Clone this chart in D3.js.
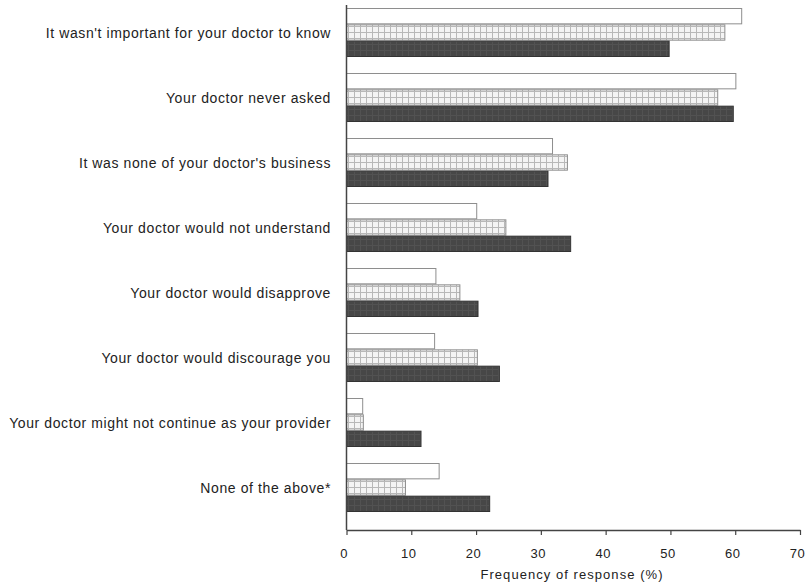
<!DOCTYPE html>
<html>
<head>
<meta charset="utf-8">
<script src="https://cdn.jsdelivr.net/npm/d3@7"></script>
<style>
  html, body { margin: 0; padding: 0; background: #fff; }
  svg { display: block; }
  text { font-family: "Liberation Sans", Arial, Helvetica, sans-serif; fill: #222; }
</style>
</head>
<body>
<svg id="chart" width="807" height="586"></svg>
<script>
const categories = [
  "It wasn't important for your doctor to know",
  "Your doctor never asked",
  "It was none of your doctor's business",
  "Your doctor would not understand",
  "Your doctor would disapprove",
  "Your doctor would discourage you",
  "Your doctor might not continue as your provider",
  "None of the above*"
];
const seriesNames = ["Open", "Hatched", "Solid"];
const openValues    = [61.0, 60.1, 31.8, 20.1, 13.8, 13.6, 2.5, 14.3];
const hatchedValues = [58.4, 57.3, 34.1, 24.6, 17.5, 20.2, 2.6, 9.1];
const solidValues   = [49.8, 59.7, 31.1, 34.6, 20.3, 23.6, 11.5, 22.1];
const xTicks = [0, 10, 20, 30, 40, 50, 60, 70];
const xTitle = "Frequency of response (%)";

const series = [openValues, hatchedValues, solidValues];

const svg = d3.select("#chart");
const plotTop = 8;
const plotBottom = 530;

const x = d3.scaleLinear().domain([0, 70]).range([346.5, 800]);
const y0 = d3.scaleBand().domain(categories).range([plotTop, plotTop + 65 * 8 - 16])
  .paddingInner(16 / 65).paddingOuter(0);
const y1 = d3.scaleBand().domain(seriesNames).range([0, y0.bandwidth()]).padding(0);

// patterns
const defs = svg.append("defs");
const ph = defs.append("pattern").attr("id", "hatch").attr("patternUnits", "userSpaceOnUse")
  .attr("width", 6).attr("height", 6);
ph.append("rect").attr("width", 6).attr("height", 6).attr("fill", "#f4f4f4");
ph.append("path").attr("d", "M0 0.5 H6 M0.5 0 V6").attr("stroke", "#b8b8b8").attr("stroke-width", 1).attr("fill", "none");

const pd = defs.append("pattern").attr("id", "dark").attr("patternUnits", "userSpaceOnUse")
  .attr("width", 6).attr("height", 6);
pd.append("rect").attr("width", 6).attr("height", 6).attr("fill", "#474747");
pd.append("path").attr("d", "M0 0.5 H6 M0.5 0 V6").attr("stroke", "#525252").attr("stroke-width", 1).attr("fill", "none");

const fills = ["#ffffff", "url(#hatch)", "url(#dark)"];
const strokes = ["#8e8e8e", "#8e8e8e", "#333"];

const groups = svg.append("g").selectAll("g")
  .data(categories)
  .join("g")
  .attr("transform", d => `translate(0,${y0(d)})`);

groups.selectAll("rect")
  .data((d, i) => series.map((s, k) => ({ key: seriesNames[k], k, v: s[i] })))
  .join("rect")
  .attr("x", x(0))
  .attr("y", d => y1(d.key) + 0.5)
  .attr("width", d => x(d.v) - x(0))
  .attr("height", y1.bandwidth() - 1)
  .attr("fill", d => fills[d.k])
  .attr("stroke", d => strokes[d.k])
  .attr("stroke-width", 1);

// category labels
svg.append("g").selectAll("text")
  .data(categories)
  .join("text")
  .attr("x", 331)
  .attr("y", d => y0(d) + y0.bandwidth() / 2)
  .attr("dy", "0.38em")
  .attr("text-anchor", "end")
  .attr("font-size", 14)
  .attr("letter-spacing", 0.6)
  .text(d => d);

// left axis line
svg.append("line")
  .attr("x1", x(0)).attr("x2", x(0))
  .attr("y1", 5).attr("y2", plotBottom)
  .attr("stroke", "#444").attr("stroke-width", 1.5);

// bottom axis
const xAxis = d3.axisBottom(x).tickValues(xTicks).tickSize(5).tickPadding(14).tickSizeOuter(0);
const gx = svg.append("g").attr("transform", `translate(0,${plotBottom})`).call(xAxis);
gx.select(".domain").attr("stroke", "#444").attr("stroke-width", 1.5);
gx.selectAll(".tick line").attr("stroke", "#444").attr("stroke-width", 1.2);
gx.selectAll(".tick text").attr("font-size", 13).attr("fill", "#222")
  .attr("letter-spacing", 0.5)
  .attr("dx", -3)
  .attr("font-family", "'Liberation Sans', Arial, sans-serif");

svg.append("text")
  .attr("x", 572)
  .attr("y", 579)
  .attr("text-anchor", "middle")
  .attr("font-size", 13)
  .attr("letter-spacing", 1.05)
  .text(xTitle);
</script>
</body>
</html>
